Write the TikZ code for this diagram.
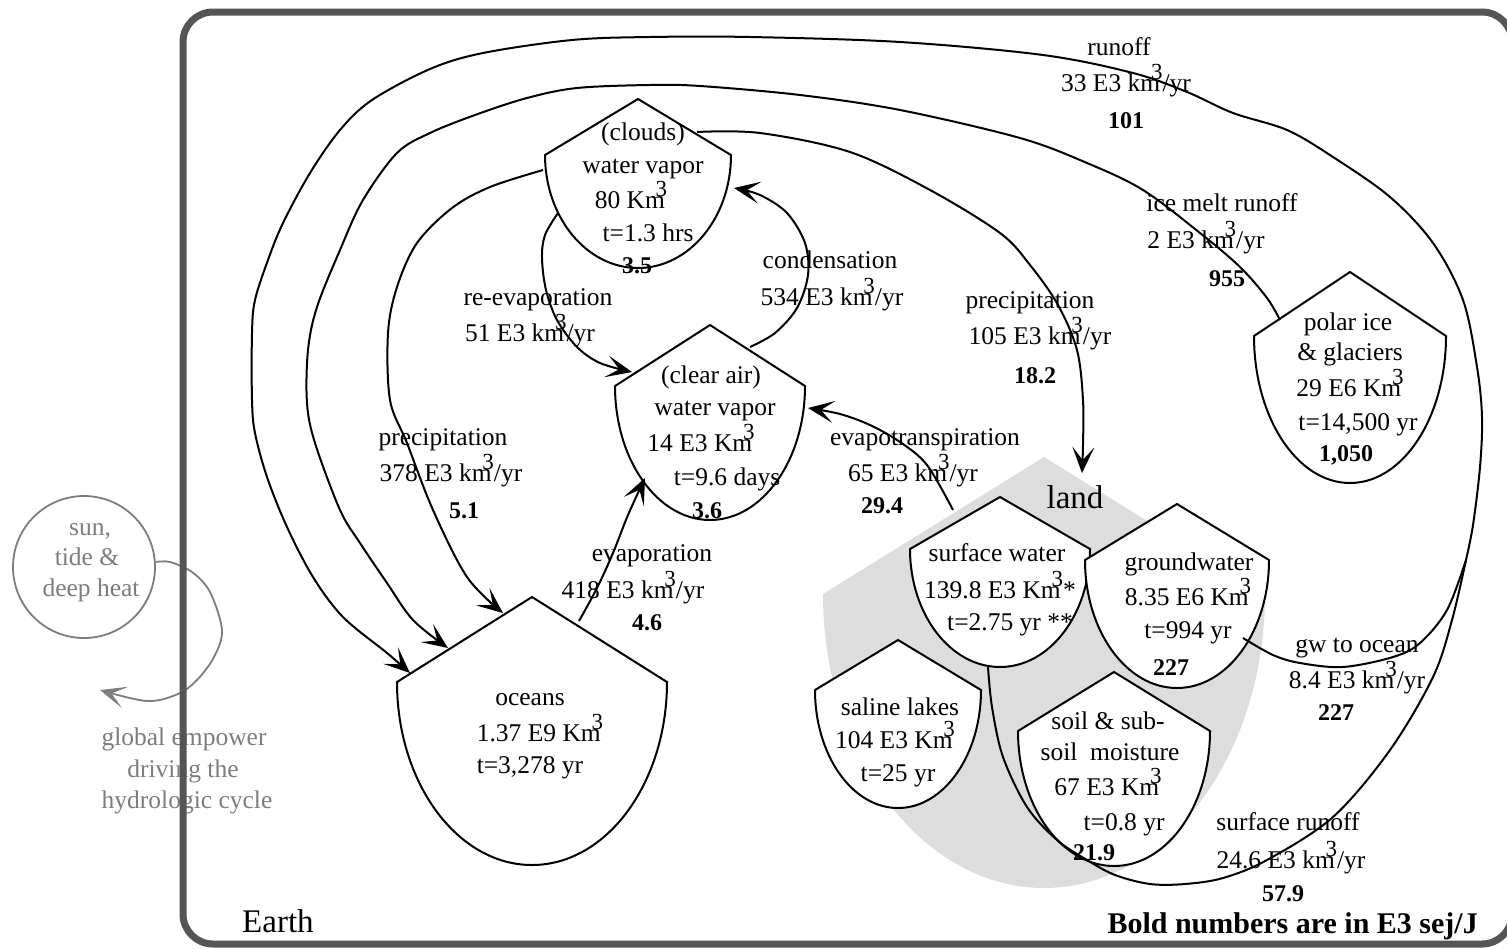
\documentclass[tikz,border=0pt]{standalone}
\usepackage{fontspec}
\setmainfont{Liberation Serif}
\usetikzlibrary{arrows.meta}
\definecolor{framegray}{RGB}{85,85,85}
\definecolor{landgray}{RGB}{221,221,221}
\definecolor{sungray}{RGB}{125,125,125}
% raised cube sign tucked over the preceding letter
\newcommand\cb{\kern-0.36em\raisebox{0.44em}{\fontsize{23}{23}\selectfont 3}}
% storage symbol: pointed roof over a half-ellipse bottom
% #1 style, #2 name, #3 centre x, #4 apex y, #5 half width, #6 shoulder y, #7 bottom y
\newcommand\storeshape[7]{%
  \pgfmathsetmacro\shA{#6+0.5523*(#7-#6)}%
  \pgfmathsetmacro\shL{#3-#5}%
  \pgfmathsetmacro\shR{#3+#5}%
  \pgfmathsetmacro\shBL{#3-0.5523*#5}%
  \pgfmathsetmacro\shBR{#3+0.5523*#5}%
  \coordinate (#2) at (#3,#6);
  \path[#1] (\shL,#6) -- (#3,#4) -- (\shR,#6)
    .. controls (\shR,\shA) and (\shBR,#7) .. (#3,#7)
    .. controls (\shBL,#7) and (\shL,\shA) .. cycle;
}
\begin{document}
\begin{tikzpicture}[x=1pt,y=-1pt,
  txt/.style={anchor=base,inner sep=0pt,font=\fontsize{25.5}{30}\selectfont},
  num/.style={anchor=base,inner sep=0pt,font=\fontsize{24}{28}\selectfont\bfseries},
  big/.style={anchor=base,inner sep=0pt,font=\fontsize{33}{36}\selectfont},
  gtxt/.style={txt,text=sungray},
  store/.style={draw=black,line width=2pt,fill=white},
  landfill/.style={fill=landgray},
  flow/.style={draw=black,line width=2pt,line join=round},
  tip/.style={-{Stealth[length=26pt,width=22pt,inset=13pt]}},
  sunflow/.style={draw=sungray,line width=1.8pt,line join=round,-{Stealth[length=26pt,width=22pt,inset=14pt]}},
]
\useasboundingbox (0,0) rectangle (1507,948);
\clip (0,0) rectangle (1507,948);

% land region
\storeshape{landfill}{land}{1044}{457}{221}{594}{888}

% storages
\storeshape{store}{clouds}{638}{99}{93}{155}{268}
\storeshape{store}{clear}{710}{325}{95}{386}{520}
\storeshape{store}{ocean}{532}{597}{135}{682}{865}
\storeshape{store}{polar}{1350}{272}{96}{336}{483}
\storeshape{store}{surface}{1000}{497}{90}{549}{667}
\storeshape{store}{ground}{1177}{504}{92}{560}{688}
\storeshape{store}{saline}{898}{640}{83}{690}{808}
\storeshape{store}{soil}{1114}{672}{96}{731}{866}

% flow end points on the storages
\coordinate (jn) at (1466,560);
\coordinate (ocA) at (410,673);
\coordinate (ocB) at (448,648);
\coordinate (ocC) at (503,613);
\coordinate (ice) at (1280,320);
\coordinate (clC) at (543,170);
\coordinate (clD) at (558,213);
\coordinate (clE) at (734,188);
\coordinate (clF) at (697,132);
\coordinate (caD) at (632,372);
\coordinate (caE) at (750,347);
\coordinate (caG) at (808,408);
\coordinate (caH) at (645,478);
\coordinate (ocH) at (579,621);
\coordinate (landF) at (1082,473);
\coordinate (landG) at (953,510);
\coordinate (gwJ) at (1243,638);
\coordinate (swK) at (988,667);

% runoff to the oceans
\draw[flow,tip] plot[smooth,tension=0.55] coordinates {(jn) (1473,525) (1480,467) (1482,417) (1477,367) (1463,300) (1433,243) (1390,197) (1333,157) (1287,130) (1233,113) (1187,92) (1133,73) (1043,55) (900,42) (750,37) (650,37) (572,40) (483,53) (430,69) (372,100) (340,130) (310,173) (283,223) (268,260) (255,300) (252,333) (252,400) (255,433) (267,477) (287,527) (313,577) (343,617) (387,653) (ocA)};
% ice melt runoff
\draw[flow,tip] plot[smooth,tension=0.55] coordinates {(ice) (1267,298) (1240,267) (1200,233) (1143,190) (1087,163) (1020,138) (900,110) (800,95) (700,86) (650,85) (577,88) (527,98) (475,115) (430,133) (397,153) (363,200) (340,250) (317,307) (308,350) (307,403) (315,443) (340,510) (360,543) (387,583) (413,620) (ocB)};
% precipitation over the oceans
\draw[flow,tip] plot[smooth,tension=0.55] coordinates {(clC) (490,187) (452,208) (417,243) (397,287) (388,333) (390,400) (407,443) (433,510) (467,577) (ocC)};
% re-evaporation
\draw[flow,tip] plot[smooth,tension=0.55] coordinates {(clD) (545,235) (542,258) (546,290) (557,320) (577,347) (600,363) (caD)};
% condensation
\draw[flow,tip] plot[smooth,tension=0.55] coordinates {(caE) (775,333) (797,308) (808,275) (805,243) (787,213) (760,195) (clE)};
% precipitation over land
\draw[flow,tip] plot[smooth,tension=0.55] coordinates {(clF) (760,133) (850,152) (930,190) (1000,233) (1030,265) (1058,305) (1077,350) (1083,400) (1083,445) (landF)};
% evapotranspiration
\draw[flow,tip] plot[smooth,tension=0.55] coordinates {(landG) (927,465) (900,442) (870,425) (840,414) (caG)};
% evaporation
\draw[flow,tip] plot[smooth,tension=0.55] coordinates {(ocH) (597,588) (613,553) (628,515) (caH)};
% groundwater to ocean
\draw[flow] plot[smooth,tension=0.55] coordinates {(gwJ) (1273,655) (1300,663) (1343,667) (1393,657) (1420,643) (1447,610) (jn)};
% surface runoff
\draw[flow] plot[smooth,tension=0.55] coordinates {(swK) (992,707) (1003,757) (1027,807) (1057,840) (1087,860) (1115,875) (1150,884) (1185,884) (1223,878) (1267,860) (1333,817) (1390,750) (1433,677) (1452,620) (jn)};

% clouds
\node[txt] (cloudsA) at (643,140) {(clouds)};
\node[txt] (cloudsB) at (643,173) {water vapor};
\node[txt] (cloudsC) at (631,208) {80 Km\cb};
\node[txt] (cloudsD) at (648,241) {t=1.3 hrs};
\node[num] (cloudsE) at (637,273) {3.5};
% clear air
\node[txt] (clearA) at (711,383) {(clear air)};
\node[txt] (clearB) at (715,415) {water vapor};
\node[txt] (clearC) at (701,451) {14 E3 Km\cb};
\node[txt] (clearD) at (727,485) {t=9.6 days};
\node[num] (clearE) at (707,518) {3.6};
% oceans
\node[txt] (oceanA) at (530,705) {oceans};
\node[txt] (oceanB) at (540,741) {1.37 E9 Km\cb};
\node[txt] (oceanC) at (530,773) {t=3,278 yr};
% polar ice
\node[txt] (polarA) at (1348,330) {polar ice};
\node[txt] (polarB) at (1350,360) {\& glaciers};
\node[txt] (polarC) at (1350,396) {29 E6 Km\cb};
\node[txt] (polarD) at (1358,430) {t=14,500 yr};
\node[num] (polarE) at (1346,461) {1,050};
% surface water
\node[txt] (surfA) at (997,561) {surface water};
\node[txt] (surfB) at (1000,598) {139.8 E3 Km\cb*};
\node[txt] (surfC) at (1010,630) {t=2.75 yr **};
% saline lakes
\node[txt] (salA) at (900,715) {saline lakes};
\node[txt] (salB) at (895,748) {104 E3 Km\cb};
\node[txt] (salC) at (898,781) {t=25 yr};
% groundwater
\node[txt] (gwA) at (1189,570) {groundwater};
\node[txt] (gwB) at (1188,605) {8.35 E6 Km\cb};
\node[txt] (gwC) at (1188,638) {t=994 yr};
\node[num] (gwD) at (1171,675) {227};
% soil moisture
\node[txt] (soilA) at (1108,729) {soil \& sub-};
\node[txt] (soilB) at (1110,760) {soil\ \ moisture};
\node[txt] (soilC) at (1108,795) {67 E3 Km\cb};
\node[txt] (soilD) at (1124,830) {t=0.8 yr};
\node[num] (soilE) at (1094,860) {21.9};

% flow labels
\node[txt] (roA) at (1119,55) {runoff};
\node[txt] (roB) at (1126,91) {33 E3 km\cb/yr};
\node[num] (roC) at (1126,128) {101};
\node[txt] (imA) at (1222,211) {ice melt runoff};
\node[txt] (imB) at (1206,248) {2 E3 km\cb/yr};
\node[num] (imC) at (1227,286) {955};
\node[txt] (coA) at (830,268) {condensation};
\node[txt] (coB) at (832,305) {534 E3 km\cb/yr};
\node[txt] (reA) at (538,305) {re-evaporation};
\node[txt] (reB) at (530,341) {51 E3 km\cb/yr};
\node[txt] (plA) at (1030,308) {precipitation};
\node[txt] (plB) at (1040,344) {105 E3 km\cb/yr};
\node[num] (plC) at (1035,383) {18.2};
\node[txt] (poA) at (443,445) {precipitation};
\node[txt] (poB) at (451,481) {378 E3 km\cb/yr};
\node[num] (poC) at (464,518) {5.1};
\node[txt] (etA) at (925,445) {evapotranspiration};
\node[txt] (etB) at (913,481) {65 E3 km\cb/yr};
\node[num] (etC) at (882,513) {29.4};
\node[txt] (evA) at (652,561) {evaporation};
\node[txt] (evB) at (633,598) {418 E3 km\cb/yr};
\node[num] (evC) at (647,630) {4.6};
\node[txt] (goA) at (1357,652) {gw to ocean};
\node[txt] (goB) at (1357,688) {8.4 E3 km\cb/yr};
\node[num] (goC) at (1336,720) {227};
\node[txt] (srA) at (1288,830) {surface runoff};
\node[txt] (srB) at (1291,868) {24.6 E3 km\cb/yr};
\node[num] (srC) at (1283,901) {57.9};

% outside source
\node[circle,draw=sungray,line width=1.8pt,minimum size=142pt,inner sep=0pt] (sun) at (84,567) {};
\node[gtxt] (sunA) at (90,535) {sun,};
\node[gtxt] (sunB) at (87,565) {tide \&};
\node[gtxt] (sunC) at (91,596) {deep heat};
\coordinate (sunEnd) at (100,690);
\draw[sunflow] plot[smooth,tension=0.55] coordinates {(sun.4) (170,562) (192,572) (210,592) (222,630) (214,657) (197,680) (178,694) (147,701) (sunEnd)};
\node[gtxt] (empA) at (184,745) {global empower};
\node[gtxt] (empB) at (183,777) {driving the};
\node[gtxt] (empC) at (187,808) {hydrologic cycle};

% titles
\node[big] (landlabel) at (1075,508) {land};
\node[big,anchor=base west] (earth) at (242,932) {Earth};
\node[anchor=base east,inner sep=0pt,font=\fontsize{30}{32}\selectfont\bfseries] (note) at (1478,933) {Bold numbers are in E3 sej/J};

% Earth boundary
\draw[framegray,line width=7pt,rounded corners=30pt] (183,12) rectangle (1512,944);
\end{tikzpicture}
\end{document}
